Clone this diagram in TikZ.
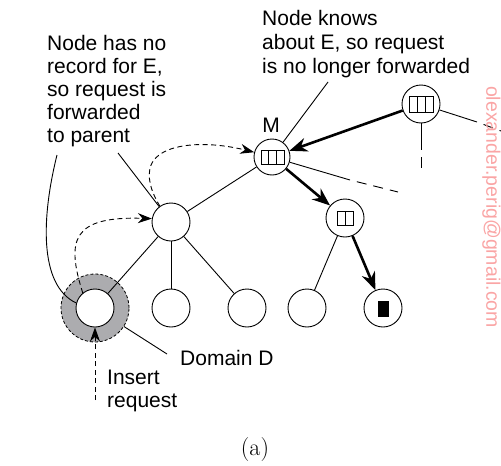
\documentclass[tikz,border=0pt]{standalone}
\usepackage{fontspec}
\newfontfamily\lab{Liberation Sans}
\usetikzlibrary{arrows.meta}
\definecolor{ringgray}{RGB}{172,172,175}
\definecolor{wmark}{RGB}{250,165,165}
\begin{document}
\begin{tikzpicture}[x=1pt,y=-1pt,
  nd/.style={circle,draw,line width=0.9pt,minimum size=38pt,inner sep=0pt,fill=white},
  thinline/.style={line width=0.9pt},
  bigarrow/.style={line width=2.6pt,-{Stealth[length=18pt,width=14pt]}},
  dasharrow/.style={line width=0.9pt,dash pattern=on 5pt off 3.5pt,-{Stealth[length=14pt,width=10pt]}},
  txt/.style={font=\lab\fontsize{21}{23}\selectfont,inner sep=0pt,align=left},
  cell/.style={draw,line width=0.9pt}]
\useasboundingbox (0,0) rectangle (501,466);

% ring of domain D
\node[circle,fill=ringgray,draw,line width=0.8pt,dash pattern=on 3pt off 2pt,minimum size=68pt,inner sep=0pt] (ring) at (95,308) {};

% nodes
\node[nd] (TR) at (421,104) {};
\node[nd,minimum size=36pt] (M) at (272,157) {};
\node[nd] (P) at (171,222) {};
\node[nd] (U) at (345,218) {};
\node[nd] (D) at (95,308) {};
\node[nd] (C2) at (171,308) {};
\node[nd] (C3) at (247,308) {};
\node[nd] (C4) at (307,308) {};
\node[nd] (C5) at (383,308) {};

% icons
\draw[cell] (409,96.5) rectangle (433,112);
\draw[cell] (417,96.5) -- (417,112);
\draw[cell] (425,96.5) -- (425,112);
\draw[cell] (261,150) rectangle (284,164);
\draw[cell] (268.7,150) -- (268.7,164);
\draw[cell] (276.3,150) -- (276.3,164);
\draw[cell] (337.5,211) rectangle (353.5,225.5);
\draw[cell] (345.5,211) -- (345.5,225.5);
\fill (377.5,300.5) rectangle (388.5,316.5);

% coordinates
\coordinate (m1) at (350,180);
\coordinate (m2) at (398,192);
\coordinate (t1) at (477,122);
\coordinate (t2) at (501,131);
\coordinate (t3) at (421,150);
\coordinate (t4) at (421,157);
\coordinate (t5) at (421,168);
\coordinate (kp) at (328,82);
\coordinate (lp1) at (118,153);
\coordinate (lp2) at (57,155);
\coordinate (ddp) at (167,354);
\coordinate (ir) at (95,400);

% tree edges
\draw[thinline] (P) -- (M);
\draw[thinline] (P) -- (D);
\draw[thinline] (P) -- (C2);
\draw[thinline] (P) -- (C3);
\draw[thinline] (U) -- (C4);
\draw[thinline] (M) -- (m1);
\draw[thinline,dash pattern=on 10pt off 7pt,dash phase=10pt] (m1) -- (m2);
\draw[thinline] (TR) -- (t1);
\draw[thinline,dash pattern=on 10pt off 7pt,dash phase=10pt] (t1) -- (t2);
\draw[thinline] (TR) -- (t3);
\draw[thinline] (t4) -- (t5);

% thick request path
\draw[bigarrow] (TR) -- (M);
\draw[bigarrow] (M) -- (U);
\draw[bigarrow] (U) -- (C5);

% forwarded requests
\draw[dasharrow] (D.129) .. controls (66,240) and (72,216) .. (P.170);
\draw[dasharrow] (P.125) .. controls (150,190) and (147,176) .. (151,165) .. controls (160,143) and (205,140) .. (M.165);
\draw[dasharrow] (ir) -- (D.south);

% pointers
\draw[thinline] (kp) -- (M);
\draw[thinline] (lp1) -- (P);
\draw[thinline] (lp2) .. controls (42,215) and (38,285) .. (D.165);
\draw[thinline] (ring) -- (ddp);

% texts
\node[txt,anchor=north west] (t-left) at (47,35) {Node has no\\record for E,\\so request is\\forwarded\\to parent};
\node[txt,anchor=north west,font=\lab\fontsize{21}{24}\selectfont] (t-right) at (262,10) {Node knows\\about E, so request\\is no longer forwarded};
\node[txt,anchor=base] (t-m) at (271,132) {M};
\node[txt,anchor=base west] (t-dom) at (180,365) {Domain D};
\node[txt,anchor=north west] (t-ins) at (107,370) {Insert\\request};
\node[inner sep=0pt,font=\fontsize{24}{26}\selectfont] (t-a) at (255,450) {(a)};
\node[inner sep=0pt,rotate=-90,text=wmark,font=\lab\fontsize{19.5}{22}\selectfont] (wm) at (491.5,207) {olexander.perig@gmail.com};
\end{tikzpicture}
\end{document}
